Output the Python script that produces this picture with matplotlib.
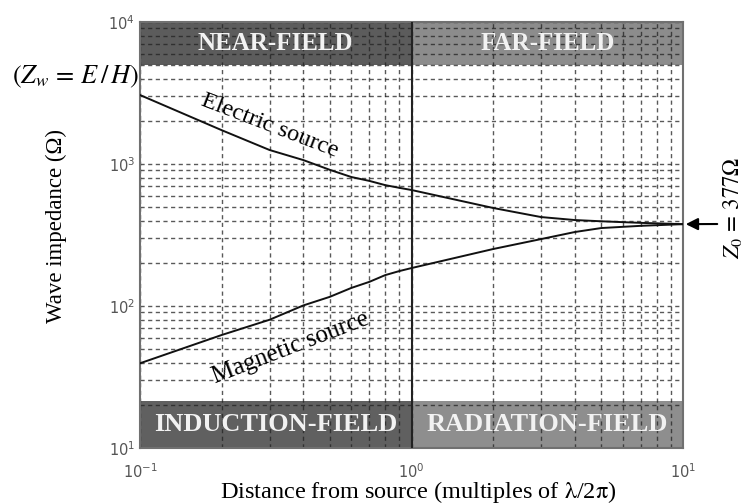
import matplotlib
matplotlib.use("Agg")
import matplotlib.pyplot as plt
from matplotlib.ticker import LogLocator, NullFormatter

# ---- data ----
distance = [0.1, 0.2, 0.3, 0.4, 0.5, 0.6, 0.7, 0.8, 0.9, 1.0, 2.0, 3.0, 4.0, 5.0, 7.0, 10.0]
z_electric = [3060, 1730, 1255, 1065, 910, 810, 760, 710, 680, 656, 490, 423, 403, 395, 385, 377]
z_magnetic = [39.5, 62.5, 80, 101, 116, 134, 148, 165, 176, 185, 252, 296, 332, 354, 367, 377]
z0 = 377
boundary = 1.0
x_range = [0.1, 10]
y_range = [10, 10000]
top_band = [5000, 10000]
bottom_band = [10, 21.5]
top_labels = ["NEAR-FIELD", "FAR-FIELD"]
bottom_labels = ["INDUCTION-FIELD", "RADIATION-FIELD"]
curve_labels = ["Electric source", "Magnetic source"]

plt.rcParams["mathtext.fontset"] = "stix"
serif = ["Liberation Serif", "DejaVu Serif"]

fig = plt.figure(figsize=(7.44, 5.04), dpi=100)
ax = fig.add_axes([140/744, 1-448/504, (683-140)/744, (448-22)/504])
ax.set_xscale("log")
ax.set_yscale("log")
ax.set_xlim(*x_range)
ax.set_ylim(*y_range)

# bands
ax.fill_between([x_range[0], boundary], top_band[0], top_band[1], color="#5c5c5c", lw=0, zorder=0.2)
ax.fill_between([boundary, x_range[1]], top_band[0], top_band[1], color="#8c8c8c", lw=0, zorder=0.2)
ax.fill_between([x_range[0], boundary], bottom_band[0], bottom_band[1], color="#606060", lw=0, zorder=0.2)
ax.fill_between([boundary, x_range[1]], bottom_band[0], bottom_band[1], color="#8e8e8e", lw=0, zorder=0.2)

# grid
ax.set_axisbelow(True)
ax.xaxis.set_major_locator(LogLocator(base=10, numticks=10))
ax.xaxis.set_minor_locator(LogLocator(base=10, subs=range(2, 10), numticks=20))
ax.yaxis.set_minor_locator(LogLocator(base=10, subs=range(2, 10), numticks=20))
ax.xaxis.set_minor_formatter(NullFormatter())
ax.yaxis.set_minor_formatter(NullFormatter())
ax.grid(True, which="both", axis="both", color="#222222", linestyle=(0, (3, 2.5)), linewidth=1.0, alpha=0.75)
ax.tick_params(which="both", direction="in", length=0, labelsize=10.5, labelcolor="#555555")
ax.tick_params(axis="x", pad=10)
for s in ax.spines.values():
    s.set_color("#707070")
    s.set_linewidth(1.5)

# vertical boundary line
ax.axvline(boundary, color="#222222", lw=1.5, zorder=3)

# curves
ax.plot(distance, z_electric, color="#111111", lw=1.4, zorder=4)
ax.plot(distance, z_magnetic, color="#111111", lw=1.4, zorder=4)

# band labels
xl = (x_range[0] * boundary) ** 0.5
xr = (boundary * x_range[1]) ** 0.5
yt = (top_band[0] * top_band[1]) ** 0.5
yb = (bottom_band[0] * bottom_band[1]) ** 0.5
for xx, lab in zip([xl, xr], top_labels):
    ax.text(xx, yt, lab, color="#f2f2f2", fontsize=18, fontweight="bold", family=serif,
            ha="center", va="center", zorder=5)
for xx, lab in zip([xl, xr], bottom_labels):
    ax.text(xx, yb, lab, color="#f2f2f2", fontsize=19, fontweight="bold", family=serif,
            ha="center", va="center", zorder=5)

# curve labels
ax.text(0.30, 1870, curve_labels[0], fontsize=17.5, family=serif, rotation=-21,
        ha="center", va="center", zorder=5)
ax.text(0.36, 51, curve_labels[1], fontsize=18, family=serif, rotation=21,
        ha="center", va="center", zorder=5)

# axis labels
ax.set_xlabel(r"Distance from source (multiples of $\mathrm{\lambda}$/2$\mathrm{\pi}$)", fontsize=17.5, family=serif)
ax.xaxis.set_label_coords((418-140)/543, -(479-448)/426)
ax.set_ylabel("Wave impedance (Ω)", fontsize=16.5, family=serif)
ax.yaxis.set_label_coords(-0.135, 0.52)

# Z_w annotation
fig.text(76/744, 1-77/504, r"$\left(Z_w\, =\, E\,/\,H\right)$", fontsize=19, ha="center", va="center")

# Z0 annotation with arrow
ax.annotate("", xy=(x_range[1], z0), xycoords="data",
            xytext=(720/744, 1-224/504), textcoords="figure fraction",
            arrowprops=dict(arrowstyle="-|>", color="black", lw=1.5, mutation_scale=18),
            annotation_clip=False)
fig.text(733/744, 1-208/504, r"$Z_0\, =\, 377\Omega$", fontsize=16.5, rotation=90,
         ha="center", va="center")

fig.savefig("out.png", dpi=100)
